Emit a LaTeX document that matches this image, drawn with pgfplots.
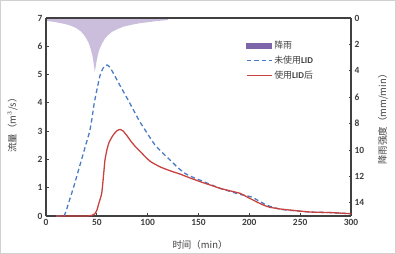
\documentclass[border=0pt]{standalone}
\usepackage{fontspec}
\setmainfont{Carlito}
\newfontfamily\cjk{Noto Sans CJK SC}
\usepackage{pgfplots}
\pgfplotsset{compat=1.18}
\definecolor{axc}{HTML}{404040}
\definecolor{rainc}{HTML}{CBBEDD}
\definecolor{rainl}{HTML}{7E64A8}
\definecolor{bluec}{HTML}{4A7CC4}
\definecolor{redc}{HTML}{C8423F}
\begin{document}
\begin{tikzpicture}
\draw[color=black!18, line width=0.8bp] (0.4bp,0.4bp) rectangle (395.6bp,253.6bp);
% rain axis (right, reversed)
\begin{axis}[at={(46bp,38bp)}, anchor=south west, scale only axis,
  width=305bp, height=198bp,
  xmin=0, xmax=300, ymin=0, ymax=15, y dir=reverse,
  axis x line=none, axis y line*=right,
  axis line style={draw=axc, line width=1.1bp, -},
  ytick={0,2,...,14}, tick align=inside, major tick length=2.5bp,
  tick style={draw=axc, line width=0.8bp},
  yticklabel style={font=\bfseries\fontsize{9.5}{10}\selectfont, text=axc},
  /pgf/number format/assume math mode=true,
  ylabel={\cjk 降雨强度（mm/min）},
  ylabel style={at={(rel axis cs:1.105,0.5)}, anchor=center, font=\fontsize{9.5}{10}\selectfont, text=axc},
  clip=false]
\addplot[fill=rainc, draw=none] coordinates {
(0,0.22) (5,0.26) (10,0.32) (15,0.40) (20,0.48) (25,0.60) (30,0.78) (34,1.0)
(37,1.25) (40,1.6) (42,1.9) (44,2.35) (45,2.65) (46,3.0) (47,3.5) (48,4.1)
(49,3.6) (50,3.2) (51,2.8) (52,2.5) (53,2.3) (55,1.95) (58,1.55) (61,1.3)
(65,1.04) (70,0.85) (76,0.66) (85,0.5) (92,0.40) (100,0.32) (109,0.23)
(115,0.19) (120,0.15)} \closedcycle;
\end{axis}
% flow axis
\begin{axis}[at={(46bp,38bp)}, anchor=south west, scale only axis,
  width=305bp, height=198bp,
  xmin=0, xmax=300, ymin=0, ymax=7,
  axis y line*=left, axis x line*=bottom,
  axis line style={draw=axc, line width=1.1bp, -},
  xtick={0,50,...,300}, ytick={0,1,...,7},
  tick align=inside, major tick length=2.5bp,
  tick style={draw=axc, line width=0.8bp},
  ticklabel style={font=\bfseries\fontsize{9.5}{10}\selectfont, text=axc},
  /pgf/number format/assume math mode=true,
  xlabel={\cjk 时间（min）},
  xlabel style={at={(rel axis cs:0.505,-0.145)}, anchor=center, font=\fontsize{9.5}{10}\selectfont, text=axc},
  ylabel={\cjk 流量（m$^3$/s）},
  ylabel style={at={(rel axis cs:-0.11,0.47)}, anchor=center, font=\fontsize{9.5}{10}\selectfont, text=axc},
  legend style={at={(rel axis cs:0.655,0.895)}, anchor=north west, draw=none, fill=none,
     font=\fontsize{9}{10}\selectfont, text=axc, row sep=2bp, inner sep=0pt},
  legend cell align=left,
  clip=false]
\draw[draw=axc, line width=1.1bp] (rel axis cs:0,1) -- (rel axis cs:1,1);
\addlegendimage{legend image code/.code={\fill[rainl] (0bp,-2.5bp) rectangle (25bp,2.5bp);}}
\addlegendentry{\cjk 降雨}
\addlegendimage{legend image code/.code={\draw[bluec, line width=1.3bp, dash pattern=on 4.5bp off 3bp] (0bp,0bp) -- (25bp,0bp);}}
\addlegendentry{\cjk 未使用\textrm{\bfseries LID}}
\addlegendimage{legend image code/.code={\draw[redc, line width=1.3bp] (0bp,0bp) -- (25bp,0bp);}}
\addlegendentry{\cjk 使用\textrm{\bfseries LID}后}
\addplot[forget plot, bluec, line width=1.3bp, dash pattern=on 4.5bp off 3bp, smooth, tension=0.3] coordinates {
(10,0) (15,0) (18,0.02) (20,0.2) (23,0.55) (27,1.0) (31,1.5) (35,2.0) (39,2.5)
(43,3.0) (45,3.4) (47.5,4.0) (50,4.45) (53,4.95) (56,5.22) (60,5.34) (63,5.25)
(67,5.0) (73,4.6) (80,4.15) (86,3.75) (92,3.35) (100,2.9) (107,2.52) (115,2.22)
(122,1.98) (130,1.7) (137,1.5) (145,1.36) (152,1.26) (160,1.14) (171,0.98)
(180,0.88) (191,0.76) (197,0.72) (203,0.66) (208,0.56) (213,0.46) (218,0.37)
(225,0.29) (232,0.23) (240,0.2) (260,0.14) (280,0.12) (300,0.08)};
\addplot[forget plot, redc, line width=1.3bp, smooth, tension=0.3] coordinates {
(10,0) (20,0) (30,0) (40,0) (45,0.02) (48,0.08) (50,0.2) (52,0.45) (54.8,0.8)
(56.5,1.4) (58,1.98) (60,2.35) (62,2.6) (66,2.86) (70,3.02) (73,3.06) (76,3.0)
(80,2.82) (84,2.62) (88,2.45) (93,2.27) (98,2.08) (103,1.92) (112,1.74)
(122,1.6) (132,1.48) (142,1.34) (152,1.21) (162,1.09) (171,0.98) (181,0.89)
(191,0.80) (200,0.63) (205,0.54) (210,0.45) (215,0.37) (220,0.31) (230,0.25)
(240,0.21) (260,0.14) (280,0.12) (300,0.08)};
\end{axis}
\end{tikzpicture}
\end{document}
